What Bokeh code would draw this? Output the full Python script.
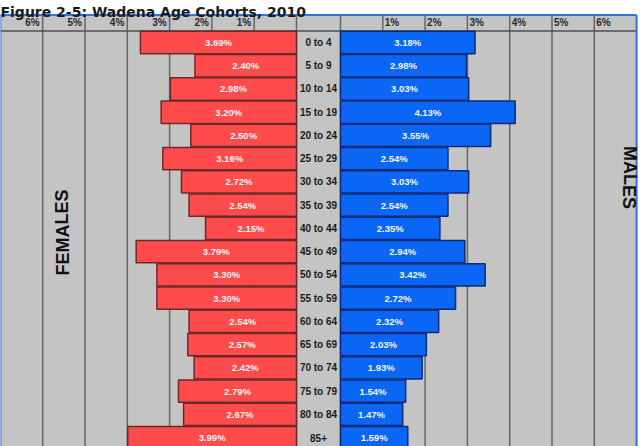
from bokeh.plotting import figure
from bokeh.models import Range1d, ColumnDataSource
from bokeh.embed import file_html
from bokeh.resources import INLINE
from bokeh.core.properties import value

# ---------------- data ----------------
age_groups = ["0 to 4", "5 to 9", "10 to 14", "15 to 19", "20 to 24", "25 to 29",
              "30 to 34", "35 to 39", "40 to 44", "45 to 49", "50 to 54", "55 to 59",
              "60 to 64", "65 to 69", "70 to 74", "75 to 79", "80 to 84", "85+"]
female = [3.69, 2.40, 2.98, 3.20, 2.50, 3.16, 2.72, 2.54, 2.15, 3.79, 3.30, 3.30,
          2.54, 2.57, 2.42, 2.79, 2.67, 3.99]
male = [3.18, 2.98, 3.03, 4.13, 3.55, 2.54, 3.03, 2.54, 2.35, 2.94, 3.42, 2.72,
        2.32, 2.03, 1.93, 1.54, 1.47, 1.59]
tick_values = [1, 2, 3, 4, 5, 6]
tick_labels = ["1%", "2%", "3%", "4%", "5%", "6%"]
title_text = "Figure 2-5: Wadena Age Cohorts, 2010"

# ---------------- layout ----------------
W, HGT = 644, 446
PX = 42.3          # pixels per percent
CX = 318.0         # centre of label column (px)
GAP = 22.0 / PX    # half width of centre column, in % units
MAXP = 7           # chart extends to 7% each side
RY0, RH = 42.0, 23.24   # px of first row centre, px per row

def ry(px):
    return (px - RY0) / RH

def rx(px):
    return (px - CX) / PX

p = figure(width=W, height=HGT, output_backend="svg", toolbar_location=None,
           x_range=Range1d(rx(0), rx(W)), y_range=Range1d(ry(HGT), ry(0)),
           min_border=0, outline_line_color=None)
p.axis.visible = False
p.grid.visible = False
p.background_fill_color = "white"
p.border_fill_color = "white"

n = len(age_groups)
rows = list(range(n))
hdr_top = ry(14.5)
hdr_bot = -0.5
bottom = n + 1

# chart background
p.quad(left=[-(GAP + MAXP)], right=[GAP + MAXP], top=[hdr_top], bottom=[bottom],
       fill_color="#c4c4c4", line_color=None)

# grid lines
gx = [-(GAP + t) for t in tick_values] + [GAP + t for t in tick_values] + [-GAP, GAP]
p.segment(x0=gx, x1=gx, y0=[hdr_top] * len(gx), y1=[bottom] * len(gx),
          line_color="#666666", line_width=1.5)
# header bottom line
p.segment(x0=[-(GAP + MAXP)], x1=[GAP + MAXP], y0=[hdr_bot], y1=[hdr_bot],
          line_color="#505050", line_width=1.5)

# bars
bh = 0.48
src = ColumnDataSource(dict(
    row=rows, age=age_groups, female=female, male=male,
    fl=[-(GAP + v) for v in female], fr=[-GAP] * n,
    ml=[GAP] * n, mr=[GAP + v for v in male],
    top=[r - bh for r in rows], bot=[r + bh for r in rows],
    fc=[-(GAP + v / 2) for v in female], mc=[GAP + v / 2 for v in male],
    zero=[0] * n,
    flab=["%.2f%%" % v for v in female], mlab=["%.2f%%" % v for v in male],
))
p.quad(left="fl", right="fr", top="top", bottom="bot", source=src,
       fill_color="#ff4b4b", line_color="#6e2828", line_width=1.5)
p.quad(left="ml", right="mr", top="top", bottom="bot", source=src,
       fill_color="#0a66f5", line_color="#0d2a78", line_width=1.5)

lab_font = value("Liberation Sans")
p.text(x="fc", y="row", text="flab", source=src, text_color="#f4f4f4",
       text_font=lab_font, text_font_style="bold", text_font_size="9.5px",
       text_align="center", text_baseline="middle")
p.text(x="mc", y="row", text="mlab", source=src, text_color="#f4f4f4",
       text_font=lab_font, text_font_style="bold", text_font_size="9.5px",
       text_align="center", text_baseline="middle")
p.text(x="zero", y="row", text="age", source=src, text_color="#1a1a1a",
       text_font=lab_font, text_font_style="bold", text_font_size="10px",
       text_align="center", text_baseline="middle")

# header tick labels
hy = (hdr_top + hdr_bot) / 2
p.text(x=[-(GAP + t) - 3 / PX for t in tick_values], y=[hy] * len(tick_values),
       text=tick_labels, text_color="#2a2a2a", text_font=lab_font,
       text_font_style="bold", text_font_size="10px",
       text_align="right", text_baseline="middle")
p.text(x=[GAP + t + 2 / PX for t in tick_values], y=[hy] * len(tick_values),
       text=tick_labels, text_color="#2a2a2a", text_font=lab_font,
       text_font_style="bold", text_font_size="10px",
       text_align="left", text_baseline="middle")

# blue frame
bl = "#3074e0"
p.segment(x0=[-(GAP + MAXP), -(GAP + MAXP), GAP + MAXP],
          x1=[GAP + MAXP, -(GAP + MAXP), GAP + MAXP],
          y0=[hdr_top, hdr_top, hdr_top], y1=[hdr_top, bottom, bottom],
          line_color=bl, line_width=2)

# side labels
p.text(x=[rx(62)], y=[ry(232)], text=["FEMALES"], angle=1.5708,
       text_font=lab_font, text_font_style="bold", text_font_size="18px",
       text_color="#111111", text_align="center", text_baseline="middle")
p.text(x=[rx(629)], y=[ry(177)], text=["MALES"], angle=-1.5708,
       text_font=lab_font, text_font_style="bold", text_font_size="18px",
       text_color="#111111", text_align="center", text_baseline="middle")

# title
p.text(x=[rx(0)], y=[ry(11)], text=[title_text], text_font=value("DejaVu Sans"),
       text_font_style="bold", text_font_size="14px", text_color="#1a1a1a",
       text_align="left", text_baseline="alphabetic")

open("out.html", "w").write(file_html(p, INLINE))
